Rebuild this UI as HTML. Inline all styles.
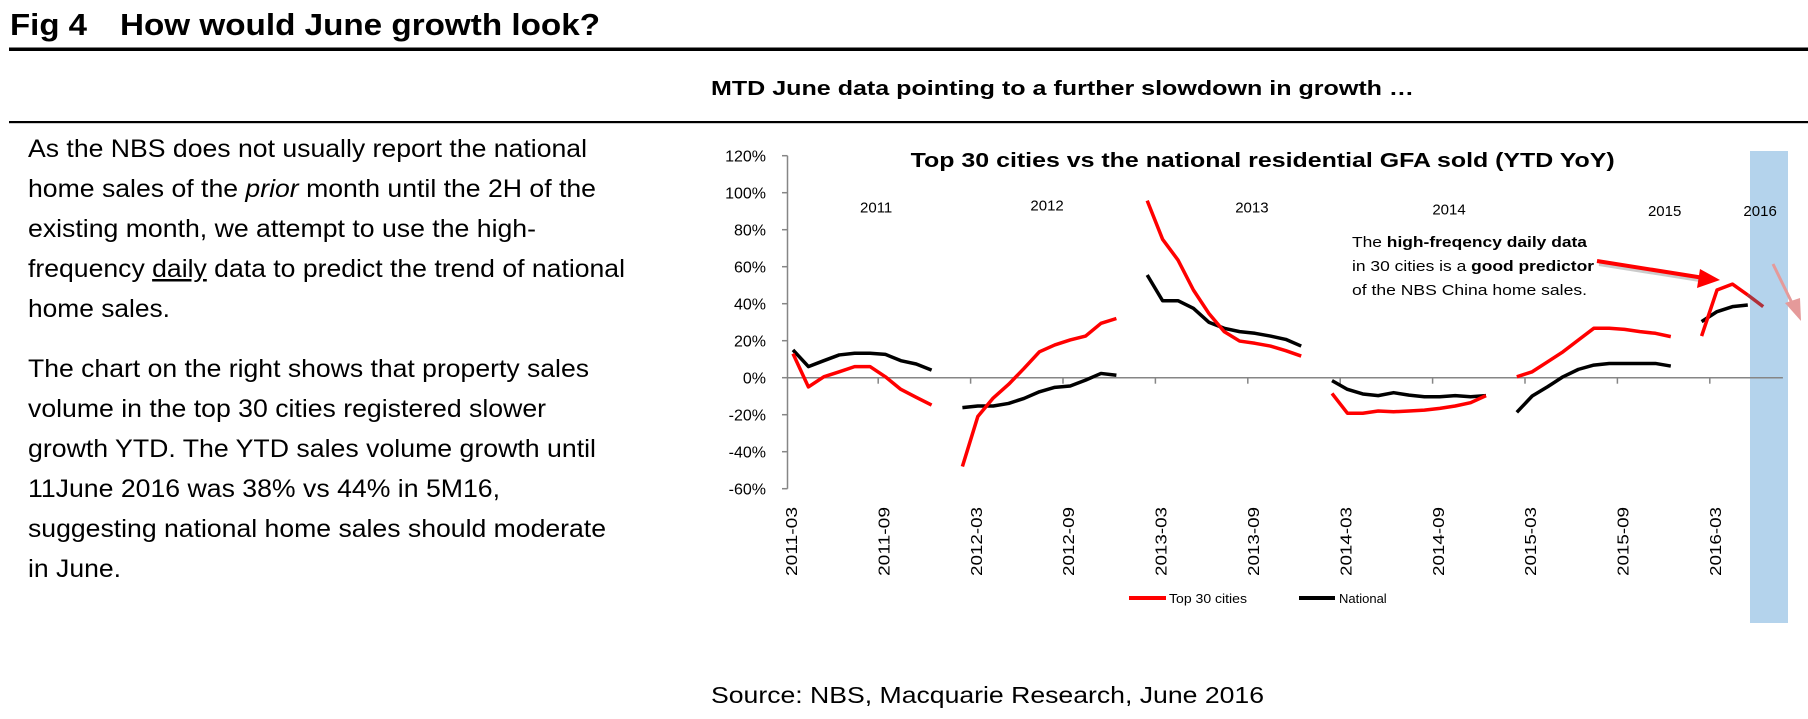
<!DOCTYPE html>
<html><head><meta charset="utf-8"><style>
html,body{margin:0;padding:0;background:#fff;}
svg{display:block;font-family:"Liberation Sans",Arial,sans-serif;}
</style></head><body>
<svg id="chart" width="1808" height="719" viewBox="0 0 1808 719" xmlns="http://www.w3.org/2000/svg">
<text x="10" y="35" font-size="31" font-weight="bold" textLength="77" lengthAdjust="spacingAndGlyphs">Fig 4</text>
<text x="120" y="35" font-size="31" font-weight="bold" textLength="480" lengthAdjust="spacingAndGlyphs">How would June growth look?</text>
<rect x="9" y="47.5" width="1799" height="3.5" fill="#000"/>
<text x="711" y="95" font-size="20" font-weight="bold" textLength="703" lengthAdjust="spacingAndGlyphs">MTD June data pointing to a further slowdown in growth …</text>
<rect x="9" y="121" width="1799" height="2.2" fill="#000"/>
<g font-size="25">
<text x="28" y="157" textLength="559" lengthAdjust="spacingAndGlyphs">As the NBS does not usually report the national</text>
<text x="28" y="197" textLength="568" lengthAdjust="spacingAndGlyphs">home sales of the <tspan font-style="italic">prior</tspan> month until the 2H of the</text>
<text x="28" y="237" textLength="508" lengthAdjust="spacingAndGlyphs">existing month, we attempt to use the high-</text>
<text x="28" y="277" textLength="597" lengthAdjust="spacingAndGlyphs">frequency <tspan text-decoration="underline">daily</tspan> data to predict the trend of national</text>
<text x="28" y="317" textLength="142" lengthAdjust="spacingAndGlyphs">home sales.</text>
<text x="28" y="377" textLength="561" lengthAdjust="spacingAndGlyphs">The chart on the right shows that property sales</text>
<text x="28" y="417" textLength="518" lengthAdjust="spacingAndGlyphs">volume in the top 30 cities registered slower</text>
<text x="28" y="457" textLength="568" lengthAdjust="spacingAndGlyphs">growth YTD. The YTD sales volume growth until</text>
<text x="28" y="497" textLength="472" lengthAdjust="spacingAndGlyphs">11June 2016 was 38% vs 44% in 5M16,</text>
<text x="28" y="537" textLength="578" lengthAdjust="spacingAndGlyphs">suggesting national home sales should moderate</text>
<text x="28" y="577" textLength="93" lengthAdjust="spacingAndGlyphs">in June.</text>
</g>
<rect x="1750" y="151" width="38" height="472" fill="#b4d3ec"/>
<text x="910.7" y="167" font-size="20" font-weight="bold" textLength="704" lengthAdjust="spacingAndGlyphs">Top 30 cities vs the national  residential GFA sold (YTD YoY)</text>
<g id="axes"></g>
<g id="years" font-size="15"></g>
<g id="lines"></g>
<g font-size="15">
<text x="1352" y="247" textLength="235" lengthAdjust="spacingAndGlyphs">The <tspan font-weight="bold">high-freqency daily data</tspan></text>
<text x="1352" y="271" textLength="242" lengthAdjust="spacingAndGlyphs">in 30 cities is a <tspan font-weight="bold">good predictor</tspan></text>
<text x="1352" y="295" textLength="235" lengthAdjust="spacingAndGlyphs">of the NBS China home sales.</text>
</g>
<g>
<line x1="1599" y1="264" x2="1706" y2="281" stroke="#999" stroke-width="4" opacity="0.5"/>
<line x1="1597" y1="261" x2="1704" y2="278" stroke="#f00" stroke-width="4"/>
<polygon points="1720,280 1700,269 1697,288" fill="#f00"/>
</g>
<g>
<line x1="1773" y1="264" x2="1792" y2="303" stroke="#e59a9a" stroke-width="3"/>
<polygon points="1801,321 1785,303 1800,298" fill="#e59a9a"/>
</g>
<g font-size="13">
<line x1="1129" y1="598" x2="1166" y2="598" stroke="#f00" stroke-width="4"/>
<text x="1169" y="603" textLength="78" lengthAdjust="spacingAndGlyphs">Top 30 cities</text>
<line x1="1299" y1="598" x2="1335" y2="598" stroke="#000" stroke-width="4"/>
<text x="1339" y="603">National</text>
</g>
<text x="711" y="703" font-size="23" textLength="553" lengthAdjust="spacingAndGlyphs">Source: NBS, Macquarie Research, June 2016</text>
</svg>
<script>
const monthCount = 64; // 2011-03 .. 2016-06
const yTicks = [-60,-40,-20,0,20,40,60,80,100,120];
const xTickLabels = ["2011-03","2011-09","2012-03","2012-09","2013-03","2013-09","2014-03","2014-09","2015-03","2015-09","2016-03"];
const yearLabels = ["2011","2012","2013","2014","2015","2016"];
const yearLabelMonths = [5.4,16.5,29.8,42.6,56.6,62.8];
const yearLabelValues = [92,93,92,91,90,90];
const top30 = [13,-5,0.5,3.2,6,6,0.5,-6.3,-10.6,-14.8,null,
 -48,-21,-11,-3.6,5,14,17.7,20.4,22.5,29.4,32,null,
 95.7,74.8,63.6,47.4,34.8,24.9,19.8,18.6,17.1,14.6,11.7,null,
 -8.5,-19.2,-19.2,-18,-18.4,-18,-17.5,-16.6,-15.3,-13.5,-9.7,null,
 0.5,3.2,8.6,14,20.4,26.7,26.7,26.1,24.9,24,22.2,null,
 22.5,47.4,50.6,44.7,38.4];
const national = [15,6,9.2,12.3,13.2,13.2,12.6,9.2,7.4,4.1,null,
 -16.2,-15.3,-15.3,-13.9,-11.2,-7.6,-5.2,-4.5,-1.3,2.3,1.3,null,
 55.5,41.6,41.6,37.5,30,26.7,24.9,24,22.5,20.7,17.1,null,
 -1.6,-6.3,-8.8,-9.7,-8.1,-9.4,-10.3,-10.3,-9.7,-10.3,-9.7,null,
 -18.7,-9.9,-4.9,0.5,4.5,6.8,7.7,7.7,7.7,7.7,6.3,null,
 30.3,35.7,38.4,39.3];

const NS="http://www.w3.org/2000/svg";
const X0=793, DX=15.4, Y0=377.7, PPV=222/120;
function xs(m){return X0+m*DX;}
function ys(v){return Y0-v*PPV;}
function mk(tag,attrs,parent){const e=document.createElementNS(NS,tag);for(const k in attrs)e.setAttribute(k,attrs[k]);parent.appendChild(e);return e;}
const axes=document.getElementById('axes');
const yAxis=mk('line',{x1:787.5,y1:ys(120),x2:787.5,y2:ys(-60),stroke:'#868686','stroke-width':1.5},axes);


yTicks.forEach(v=>{
  const t=mk('line',{x1:782,y1:ys(v),x2:787.5,y2:ys(v),stroke:'#868686','stroke-width':1.5},axes);
  
  
  const l=mk('text',{x:766,y:ys(v)+6,'font-size':16,'text-anchor':'end'},axes);
  l.textContent=v+'%';
  
  
});
const xAxis=mk('line',{x1:787.5,y1:Y0,x2:xs(monthCount-1)+DX/2+12,y2:Y0,stroke:'#868686','stroke-width':1.5},axes);


for(let m=6;m<monthCount;m+=6){
  const t=mk('line',{x1:xs(m)-DX/2+0.5,y1:Y0,x2:xs(m)-DX/2+0.5,y2:Y0+6,stroke:'#868686','stroke-width':1.5},axes);
  
  
}
xTickLabels.forEach((s,i)=>{
  const cx=xs(i*6)+4, by=576;
  const l=mk('text',{x:cx,y:by,'font-size':16,textLength:69,lengthAdjust:'spacingAndGlyphs',transform:`rotate(-90 ${cx} ${by})`},axes);
  l.textContent=s;
  
  
});
const yrs=document.getElementById('years');
yearLabels.forEach((s,i)=>{
  const l=mk('text',{x:xs(yearLabelMonths[i]),y:ys(yearLabelValues[i])+5,'text-anchor':'middle'},yrs);
  l.textContent=s;
  
  
});
const lines=document.getElementById('lines');
function drawSeries(vals,color,name){
  let seg=[];
  const flush=()=>{
    if(seg.length>1){
      const p=mk('polyline',{points:seg.map(q=>q.join(',')).join(' '),fill:'none',stroke:color,'stroke-width':3.5,'stroke-linejoin':'round'},lines);
      
      
    }
    seg=[];
  };
  vals.forEach((v,m)=>{ if(v===null){flush();} else seg.push([xs(m),ys(v)]); });
  flush();
}
drawSeries(national,'#000','national-line');
drawSeries(top30.slice(0,63),'#ff0000','top30-line');
// final (estimated) top-30 segment drawn darker
const last=mk('line',{x1:xs(62),y1:ys(top30[62]),x2:xs(63),y2:ys(top30[63]),stroke:'#b0303a','stroke-width':3.5},lines);


</script>
</body></html>
